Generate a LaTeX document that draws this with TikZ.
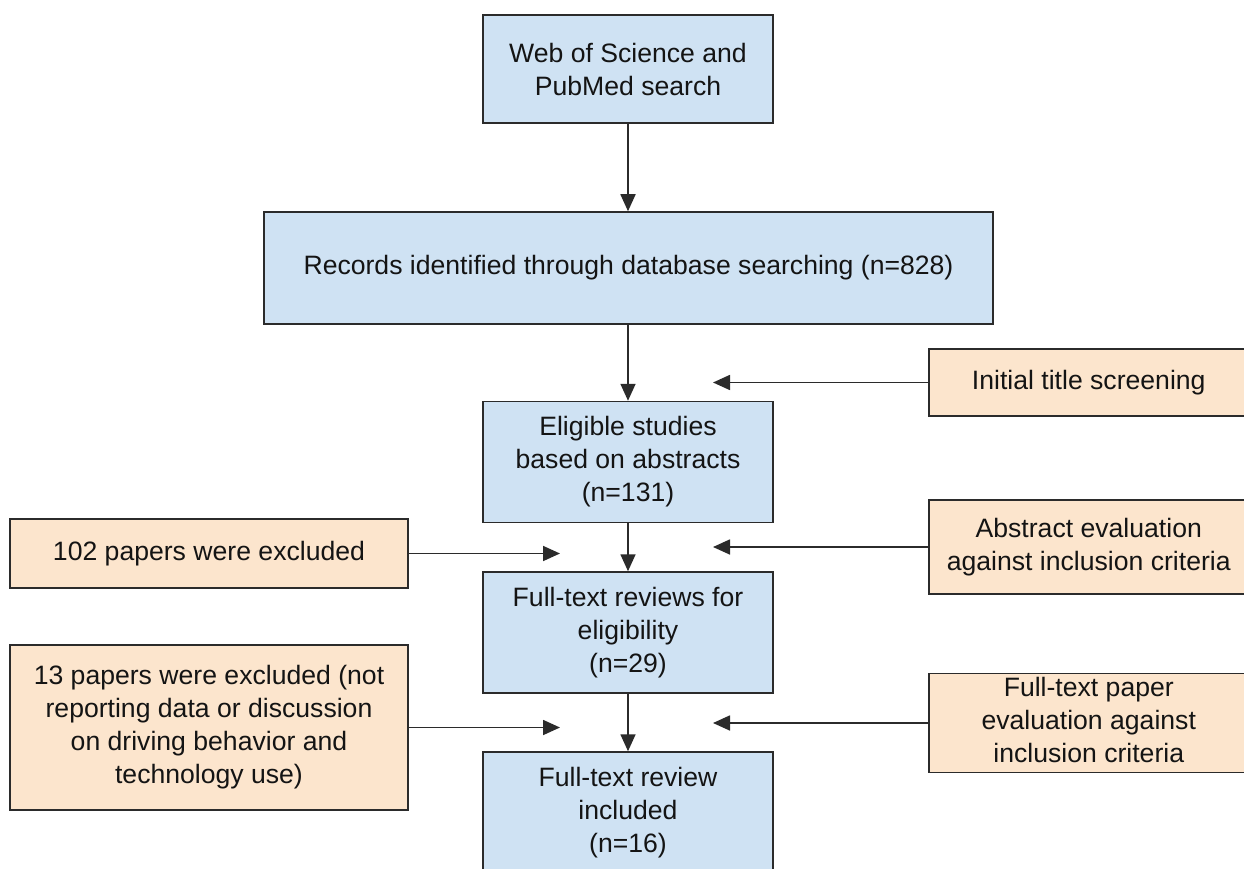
\documentclass[tikz,border=0pt]{standalone}
\usepackage{fontspec}
\setmainfont{Liberation Sans}
\usetikzlibrary{arrows.meta}
\definecolor{bluefill}{HTML}{CFE2F3}
\definecolor{orangefill}{HTML}{FCE5CD}
\definecolor{edgec}{HTML}{2B2B2B}
\definecolor{textc}{HTML}{141414}
\tikzset{
  basebox/.style={draw=edgec, line width=1.5pt, inner sep=0pt, align=center, text=textc,
    font=\fontsize{26.6}{33}\selectfont},
  bluebox/.style={basebox, fill=bluefill},
  orangebox/.style={basebox, fill=orangefill},
  conn/.style={draw=edgec, line width=1.7pt, -{Triangle[length=17pt,width=15pt]}}
}
\begin{document}
\begin{tikzpicture}[x=1pt,y=-1pt]
\useasboundingbox (0,0) rectangle (1244,869);
\clip (0,0) rectangle (1244,869);
\fill[white] (0,0) rectangle (1244,869);
% main column
\node[bluebox, minimum width=290pt, minimum height=108pt] (n1) at (628,69) {Web of Science and\\PubMed search};
\node[bluebox, minimum width=729pt, minimum height=112pt] (n2) at (628.5,268) {Records identified through database searching (n=828)};
\node[bluebox, minimum width=290pt, minimum height=121pt] (n3) at (628,462) {Eligible studies\\based on abstracts\\(n=131)};
\node[bluebox, minimum width=290pt, minimum height=121pt] (n4) at (628,632.5) {Full-text reviews for\\eligibility\\(n=29)};
\node[bluebox, minimum width=290pt, minimum height=122pt] (n5) at (628,813) {Full-text review\\included\\(n=16)};
% right side
\node[orangebox, minimum width=330pt, minimum height=67pt, anchor=west] (r1) at (928,382.5) {\hspace*{-10pt}Initial title screening};
\node[orangebox, minimum width=330pt, minimum height=94pt, anchor=west] (r2) at (928,547) {\hspace*{-10pt}\begin{tabular}{@{}c@{}}Abstract evaluation\\against inclusion criteria\end{tabular}};
\node[orangebox, minimum width=330pt, minimum height=94pt, anchor=west] (r3) at (928,723) {\hspace*{-10pt}\begin{tabular}{@{}c@{}}Full-text paper\\evaluation against\\inclusion criteria\end{tabular}};
% left side
\node[orangebox, minimum width=398pt, minimum height=69pt] (l1) at (209,553.5) {102 papers were excluded};
\node[orangebox, minimum width=398pt, minimum height=165pt] (l2) at (209,727.5) {13 papers were excluded (not\\reporting data or discussion\\on driving behavior and\\technology use)};
% free ends
\coordinate (e1) at (713,382.5);
\coordinate (e2) at (713,547);
\coordinate (e3) at (713,723);
\coordinate (w1) at (560,553.5);
\coordinate (w2) at (560,727.5);
% connectors
\draw[conn] (n1.south) -- (n1.south |- n2.north);
\draw[conn] (n2.south -| n3.north) -- (n3.north);
\draw[conn] (n3.south) -- (n4.north);
\draw[conn] (n4.south) -- (n5.north);
\draw[conn] (r1.west) -- (e1);
\draw[conn] (r2.west) -- (e2);
\draw[conn] (r3.west) -- (e3);
\draw[conn] (l1.east) -- (w1);
\draw[conn] (l2.east) -- (w2);
\end{tikzpicture}
\end{document}
